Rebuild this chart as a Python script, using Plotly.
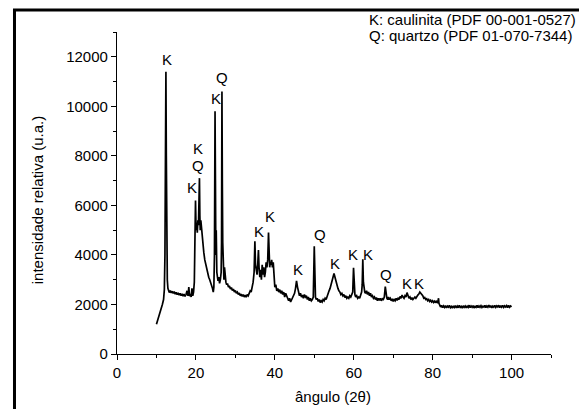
import plotly.graph_objects as go

# ---- XRD pattern (angle 2theta, intensity) ----
angle = [
    10.0, 10.3, 10.6, 10.9, 11.2, 11.5, 11.8, 12.0, 12.15, 12.3, 12.4, 12.5, 12.6, 12.75, 12.9,
    13.0, 13.25, 13.5, 13.75, 14.0, 14.25, 14.5, 14.75, 15.0, 15.25, 15.5, 15.75, 16.0, 16.25,
    16.5, 16.75, 17.0, 17.25, 17.5, 17.75, 18.0, 18.2, 18.4, 18.6, 18.8, 19.0, 19.2, 19.4, 19.6,
    19.75, 19.9, 20.05, 20.2, 20.35, 20.5, 20.65, 20.8, 20.9, 21.0, 21.1, 21.25, 21.4, 21.55,
    21.7, 21.85, 22.0, 22.25, 22.5, 22.75, 23.0, 23.25, 23.5, 23.75, 24.0, 24.2, 24.4, 24.55,
    24.7, 24.85, 24.95, 25.05, 25.15, 25.3, 25.45, 25.6, 25.8, 26.0, 26.2, 26.4, 26.5, 26.6,
    26.7, 26.8, 26.95, 27.1, 27.25, 27.4, 27.6, 27.8, 28.0, 28.25, 28.5, 28.75, 29.0, 29.25,
    29.5, 29.75, 30.0, 30.25, 30.5, 30.75, 31.0, 31.25, 31.5, 31.75, 32.0, 32.25, 32.5, 32.75,
    33.0, 33.25, 33.5, 33.75, 34.0, 34.25, 34.5, 34.75, 34.95, 35.1, 35.3, 35.5, 35.7, 35.85,
    36.0, 36.2, 36.4, 36.6, 36.8, 37.0, 37.2, 37.4, 37.6, 37.8, 38.0, 38.2, 38.4, 38.55, 38.7,
    38.85, 39.0, 39.2, 39.4, 39.6, 39.8, 40.0, 40.25, 40.5, 40.75, 41.0, 41.25, 41.5, 41.75,
    42.0, 42.25, 42.5, 42.75, 43.0, 43.25, 43.5, 43.75, 44.0, 44.25, 44.5, 44.75, 45.0, 45.25,
    45.5, 45.75, 46.0, 46.25, 46.5, 46.75, 47.0, 47.25, 47.5, 47.75, 48.0, 48.25, 48.5, 48.75,
    49.0, 49.25, 49.5, 49.75, 50.0, 50.15, 50.3, 50.5, 50.75, 51.0, 51.25, 51.5, 51.75, 52.0,
    52.25, 52.5, 52.75, 53.0, 53.25, 53.5, 53.75, 54.0, 54.25, 54.5, 54.75, 55.0, 55.25, 55.5,
    55.75, 56.0, 56.25, 56.5, 56.75, 57.0, 57.25, 57.5, 57.75, 58.0, 58.25, 58.5, 58.75, 59.0,
    59.25, 59.5, 59.75, 59.95, 60.1, 60.3, 60.5, 60.75, 61.0, 61.25, 61.5, 61.75, 62.0, 62.15,
    62.3, 62.45, 62.6, 62.8, 63.0, 63.25, 63.5, 63.75, 64.0, 64.25, 64.5, 64.75, 65.0, 65.25,
    65.5, 65.75, 66.0, 66.25, 66.5, 66.75, 67.0, 67.25, 67.5, 67.75, 68.0, 68.2, 68.4, 68.6,
    68.8, 69.0, 69.25, 69.5, 69.75, 70.0, 70.25, 70.5, 70.75, 71.0, 71.25, 71.5, 71.75, 72.0,
    72.25, 72.5, 72.75, 73.0, 73.25, 73.5, 73.75, 74.0, 74.25, 74.5, 74.75, 75.0, 75.25, 75.5,
    75.75, 76.0, 76.25, 76.5, 76.75, 77.0, 77.25, 77.5, 77.75, 78.0, 78.25, 78.5, 78.75, 79.0,
    79.25, 79.5, 79.75, 80.0, 80.25, 80.5, 80.75, 81.0, 81.25, 81.5, 81.6, 81.75, 82.0, 82.25,
    82.5, 82.75, 83.0, 83.25, 83.5, 83.75, 84.0, 84.25, 84.5, 84.75, 85.0, 85.25, 85.5, 85.75,
    86.0, 86.25, 86.5, 86.75, 87.0, 87.25, 87.5, 87.75, 88.0, 88.25, 88.5, 88.75, 89.0, 89.25,
    89.5, 89.75, 90.0, 90.25, 90.5, 90.75, 91.0, 91.25, 91.5, 91.75, 92.0, 92.25, 92.5, 92.75,
    93.0, 93.25, 93.5, 93.75, 94.0, 94.25, 94.5, 94.75, 95.0, 95.25, 95.5, 95.75, 96.0, 96.25,
    96.5, 96.75, 97.0, 97.25, 97.5, 97.75, 98.0, 98.25, 98.5, 98.75, 99.0, 99.25, 99.5, 99.75,
    100.0,
]
intensity = [
    1200, 1350, 1500, 1700, 1850, 2000, 2200, 2600, 4000, 8000, 11400, 8000, 4500, 3000, 2650,
    2550, 2480, 2560, 2470, 2530, 2450, 2520, 2420, 2490, 2400, 2470, 2380, 2450, 2360,
    2430, 2340, 2420, 2330, 2400, 2550, 2350, 2700, 2330, 2420, 2300, 2650, 2350, 2500, 2900,
    4500, 6200, 5000, 5300, 4900, 5400, 5200, 6000, 7100, 5600, 5000, 5400, 5100, 4900,
    4600, 4300, 4100, 3800, 3600, 3350, 3250, 3100, 3000, 2900, 2750, 2650, 2500, 2700,
    4000, 9800, 7000, 4000, 5000, 3300, 3100, 2950, 3100, 2850, 3000, 3300, 4500, 10600,
    6900, 4500, 3300, 3000, 3500, 3000, 2900, 2800, 2850, 2700, 2750, 2620, 2680, 2560,
    2620, 2500, 2560, 2450, 2500, 2400, 2460, 2350, 2420, 2330, 2400, 2300, 2380, 2290,
    2400, 2350, 2450, 2550, 2500, 2700, 2900, 3300, 4550, 3600, 3400, 3200, 3700, 4200,
    3500, 3100, 3400, 3000, 3600, 3200, 3500, 3100, 3300, 3700, 3500, 3800, 4900, 4000, 3500,
    3700, 3600, 3800, 3500, 3700, 3000, 2700, 2800, 2550, 2650, 2500, 2600, 2450, 2550,
    2400, 2500, 2300, 2450, 2300, 2250, 2150, 2250, 2100, 2200, 2250, 2350, 2450, 2650,
    2950, 2700, 2500, 2350, 2450, 2300, 2380, 2250, 2400, 2300, 2350, 2200, 2300, 2150,
    2250, 2150, 2200, 2300, 4350, 2600, 2300, 2200, 2250, 2120, 2200, 2080, 2150, 2100,
    2200, 2150, 2250, 2200, 2350, 2400, 2550, 2650, 2800, 2950, 3100, 3250, 3100, 2900,
    2750, 2650, 2550, 2500, 2400, 2450, 2350, 2400, 2280, 2350, 2250, 2300, 2250, 2350,
    2300, 2400, 2500, 3480, 2600, 2400, 2300, 2350, 2250, 2300, 2250, 2400, 2500, 2800,
    3820, 2900, 2600, 2500, 2450, 2550, 2400, 2500, 2350, 2450, 2300, 2350, 2250, 2300,
    2200, 2280, 2150, 2250, 2170, 2250, 2150, 2230, 2200, 2300, 2720, 2350, 2250, 2200,
    2300, 2200, 2250, 2150, 2230, 2120, 2200, 2150, 2250, 2170, 2250, 2200, 2320, 2250,
    2380, 2300, 2250, 2350, 2300, 2480, 2300, 2250, 2300, 2200, 2280, 2200, 2250, 2300,
    2250, 2350, 2380, 2420, 2500, 2450, 2400, 2350, 2250, 2280, 2200, 2230, 2150, 2200,
    2120, 2170, 2100, 2150, 2080, 2130, 2070, 2150, 2050, 2250, 2050, 1950, 1900, 1960,
    1870, 1940, 1880, 1950, 1860, 1930, 1890, 1960, 1870, 1920, 1850, 1940, 1880, 1950,
    1860, 1930, 1870, 1960, 1880, 1920, 1850, 1950, 1890, 1940, 1860, 1930, 1880, 1970,
    1870, 1940, 1890, 1950, 1860, 1920, 1880, 1960, 1870, 1940, 1890, 1950, 1880, 1930,
    1900, 1960, 1870, 1940, 1890, 1970, 1880, 1950, 1860, 1930, 1890, 1960, 1880, 1940,
    1900, 1970, 1870, 1950, 1890, 1960, 1880, 1940, 1900, 1950, 1870, 1960, 1890, 1940,
    1900,
]

# ---- peak labels ----
label_text = ["K", "K", "Q", "K", "K", "Q", "K", "K", "K", "Q", "K", "K", "K", "Q", "K", "K"]
label_x = [12.65, 19.0, 20.6, 20.65, 25.0, 26.7, 36.0, 38.9, 45.9, 51.35, 55.15, 59.8, 63.6, 68.25, 73.5, 76.6]
label_y = [11900, 6730, 7600, 8300, 10320, 11170, 4940, 5540, 3420, 4840, 3660, 4030, 4030, 3190, 2830, 2830]

legend_lines = ["K: caulinita (PDF 00-001-0527)", "Q: quartzo (PDF 01-070-7344)"]

FONT = "Liberation Sans, Arial, sans-serif"

fig = go.Figure()
fig.add_trace(go.Scatter(x=angle, y=intensity, mode="lines",
                         line=dict(color="black", width=1.7), showlegend=False,
                         hoverinfo="skip"))

for t, x, y in zip(label_text, label_x, label_y):
    fig.add_annotation(x=x, y=y, text=t, showarrow=False, xref="x", yref="y",
                       xanchor="center", yanchor="middle",
                       font=dict(family=FONT, size=15, color="black"))

for i, t in enumerate(legend_lines):
    fig.add_annotation(x=0.576, y=[1.039, 0.990][i], xref="paper", yref="paper",
                       text=t, showarrow=False, xanchor="left", yanchor="middle",
                       font=dict(family=FONT, size=15, color="black"))

fig.add_annotation(x=0.498, y=-0.1335, xref="paper", yref="paper", text="ângulo (2θ)",
                   showarrow=False, xanchor="center", yanchor="middle",
                   font=dict(family=FONT, size=15, color="black"))
fig.add_annotation(x=-0.184, y=0.478, xref="paper", yref="paper",
                   text="intensidade relativa (u.a.)", textangle=-90,
                   showarrow=False, xanchor="center", yanchor="middle",
                   font=dict(family=FONT, size=15, color="black"))

# outer frame
fig.add_shape(type="rect", xref="paper", yref="paper", x0=-0.2362, y0=-0.4, x1=1.3, y1=1.0683,
              line=dict(color="black", width=3), fillcolor="rgba(0,0,0,0)", layer="above")

fig.update_layout(
    width=579, height=409,
    margin=dict(l=117, r=28, t=32, b=55),
    paper_bgcolor="white", plot_bgcolor="white",
    font=dict(family=FONT, size=15, color="black"),
    xaxis=dict(range=[0, 110], tickvals=[0, 20, 40, 60, 80, 100], showline=True,
               linecolor="black", linewidth=1.2, ticks="outside", ticklen=5, tickwidth=1,
               tickcolor="black", showgrid=False, zeroline=False,
               minor=dict(tickvals=[10, 30, 50, 70, 90, 110], ticks="outside", ticklen=3,
                          tickcolor="black", tickwidth=1, showgrid=False),
               tickfont=dict(family=FONT, size=15)),
    yaxis=dict(range=[0, 13000], tickvals=[0, 2000, 4000, 6000, 8000, 10000, 12000],
               tickformat="d", showline=True, linecolor="black", linewidth=1.2,
               ticks="outside", ticklen=5, tickwidth=1, tickcolor="black",
               showgrid=False, zeroline=False,
               minor=dict(tickvals=[1000, 3000, 5000, 7000, 9000, 11000, 13000],
                          ticks="outside", ticklen=3, tickcolor="black", tickwidth=1,
                          showgrid=False),
               tickfont=dict(family=FONT, size=15)),
)

fig.write_html("out.html", config={"displayModeBar": False},
               post_script="document.body.style.margin='0';document.body.style.overflow='hidden';")
